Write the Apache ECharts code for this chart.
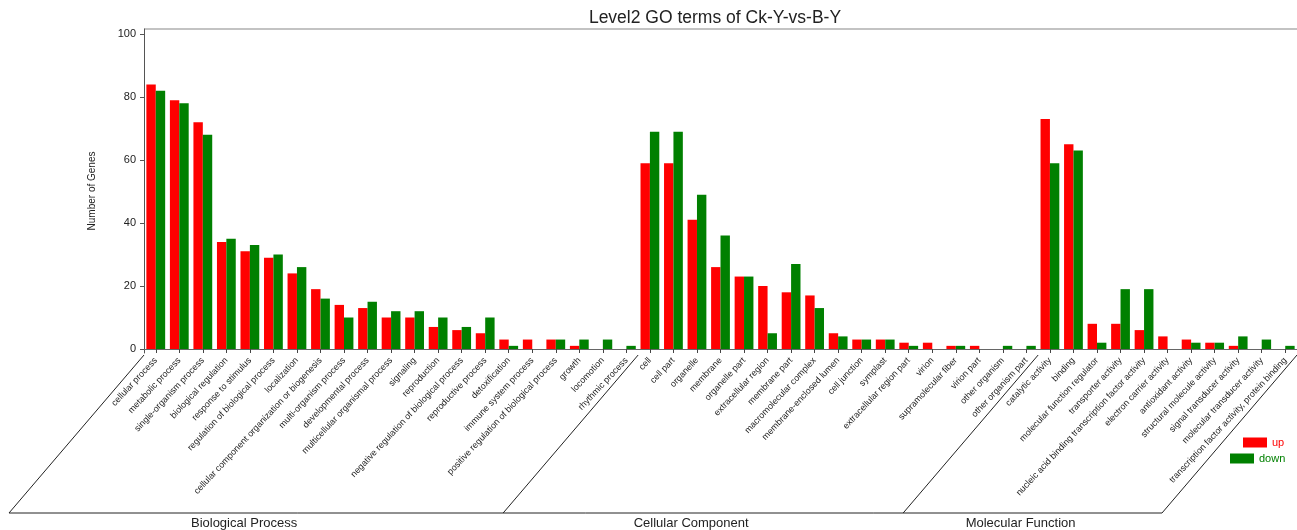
<!DOCTYPE html>
<html>
<head>
<meta charset="utf-8">
<script src="https://cdn.jsdelivr.net/npm/echarts@6/dist/echarts.min.js"></script>
<style>
  html, body { margin: 0; padding: 0; background: #ffffff; }
  #chart { width: 1297px; height: 530px; }
</style>
</head>
<body>
<div id="chart"></div>
<script>
// GO level-2 terms, in drawing order (Biological Process, Cellular Component, Molecular Function)
const categories = [
  'cellular process', 'metabolic process', 'single-organism process', 'biological regulation',
  'response to stimulus', 'regulation of biological process', 'localization',
  'cellular component organization or biogenesis', 'multi-organism process', 'developmental process',
  'multicellular organismal process', 'signaling', 'reproduction',
  'negative regulation of biological process', 'reproductive process', 'detoxification',
  'immune system process', 'positive regulation of biological process', 'growth', 'locomotion',
  'rhythmic process',
  'cell', 'cell part', 'organelle', 'membrane', 'organelle part', 'extracellular region',
  'membrane part', 'macromolecular complex', 'membrane-enclosed lumen', 'cell junction', 'symplast',
  'extracellular region part', 'virion', 'supramolecular fiber', 'virion part', 'other organism',
  'other organism part',
  'catalytic activity', 'binding', 'molecular function regulator', 'transporter activity',
  'nucleic acid binding transcription factor activity', 'electron carrier activity',
  'antioxidant activity', 'structural molecule activity', 'signal transducer activity',
  'molecular transducer activity', 'transcription factor activity, protein binding'
];

const upCounts = [
  84, 79, 72, 34, 31, 29, 24, 19, 14, 13, 10, 10, 7, 6, 5, 3, 3, 3, 1, 0, 0,
  59, 59, 41, 26, 23, 20, 18, 17, 5, 3, 3, 2, 2, 1, 1, 0, 0,
  73, 65, 8, 8, 6, 4, 3, 2, 1, 0, 0
];

const downCounts = [
  82, 78, 68, 35, 33, 30, 26, 16, 10, 15, 12, 12, 10, 7, 10, 1, 0, 3, 3, 3, 1,
  69, 69, 49, 36, 23, 5, 27, 13, 4, 3, 3, 1, 0, 1, 0, 1, 1,
  59, 63, 2, 19, 19, 0, 2, 2, 4, 3, 1
];

const groupNames = ['Biological Process', 'Cellular Component', 'Molecular Function'];
const groupSizes = [21, 17, 11];

const yTicks = [0, 20, 40, 60, 80, 100];

const FONT = '"Liberation Sans", Arial, Helvetica, sans-serif';
const RED = '#ff0000';
const GREEN = '#008000';

const chart = echarts.init(document.getElementById('chart'), null, { renderer: 'canvas' });

// plot frame
const GRID = { left: 144, top: 29, width: 1154, height: 324 };
// value range leaves a small margin below 0 and above 100 inside the frame
const Y_MIN = -1.27;
const Y_MAX = 101.59;

const option = {
  backgroundColor: '#ffffff',
  animation: false,
  textStyle: { fontFamily: FONT },
  title: {
    text: 'Level2 GO terms of Ck-Y-vs-B-Y',
    left: 715,
    top: 9,
    padding: 0,
    textAlign: 'center',
    textStyle: { fontFamily: FONT, fontSize: 17.5, fontWeight: 'normal', color: '#222' }
  },
  legend: [
    {
      data: [{ name: 'up', textStyle: { color: RED } }],
      left: 1243, top: 437, padding: 0,
      itemWidth: 24, itemHeight: 10, icon: 'rect',
      textStyle: { fontFamily: FONT, fontSize: 11, padding: [0, 0, 0, 0] }
    },
    {
      data: [{ name: 'down', textStyle: { color: GREEN } }],
      left: 1230, top: 453, padding: 0,
      itemWidth: 24, itemHeight: 10, icon: 'rect',
      textStyle: { fontFamily: FONT, fontSize: 11, padding: [0, 0, 0, 0] }
    }
  ],
  grid: { left: GRID.left, top: GRID.top, width: GRID.width, height: GRID.height, containLabel: false },
  xAxis: {
    type: 'category',
    data: categories,
    boundaryGap: true,
    axisLine: { show: true, lineStyle: { color: '#666', width: 1 } },
    axisTick: { show: true, alignWithLabel: true, length: 4, lineStyle: { color: '#444' } },
    axisLabel: {
      interval: 0,
      rotate: 47,
      margin: 6,
      fontFamily: FONT,
      fontSize: 9,
      color: '#222'
    },
    splitLine: { show: false }
  },
  yAxis: {
    type: 'value',
    min: Y_MIN,
    max: Y_MAX,
    name: 'Number of Genes',
    nameLocation: 'middle',
    nameRotate: 90,
    nameGap: 47,
    nameTextStyle: { fontFamily: FONT, fontSize: 10, color: '#222' },
    axisLine: { show: true, lineStyle: { color: '#555', width: 1 } },
    axisTick: { show: true, length: 4, customValues: yTicks, lineStyle: { color: '#555' } },
    axisLabel: { customValues: yTicks, margin: 8, fontFamily: FONT, fontSize: 11, color: '#222' },
    splitLine: { show: false }
  },
  series: [
    {
      name: 'up',
      type: 'bar',
      data: upCounts,
      barWidth: 9.4,
      barGap: '0%',
      itemStyle: { color: RED }
    },
    {
      name: 'down',
      type: 'bar',
      data: downCounts,
      barWidth: 9.4,
      barGap: '0%',
      itemStyle: { color: GREEN }
    }
  ]
};

chart.setOption(option);

// Top frame edge plus the slanted group brackets under the category labels
function drawDecorations() {
  const c0 = chart.convertToPixel({ xAxisIndex: 0 }, categories[0]);
  const c1 = chart.convertToPixel({ xAxisIndex: 0 }, categories[1]);
  const band = c1 - c0;
  const axisY = chart.convertToPixel({ yAxisIndex: 0 }, Y_MIN);
  const topY = axisY + 2;
  const baseY = 513;
  const shift = 135;
  const edge = i => c0 + (i - 0.5) * band;

  const lineStyle = { stroke: '#222', lineWidth: 1 };
  const elements = [];

  elements.push({
    type: 'line',
    shape: { x1: GRID.left, y1: GRID.top, x2: GRID.left + GRID.width, y2: GRID.top },
    style: { stroke: '#888', lineWidth: 1.2 },
    silent: true
  });

  const bounds = [0];
  groupSizes.forEach(n => bounds.push(bounds[bounds.length - 1] + n));

  bounds.forEach(b => {
    const x = edge(b);
    elements.push({
      type: 'line',
      shape: { x1: x, y1: topY, x2: x - shift, y2: baseY },
      style: lineStyle,
      silent: true
    });
  });

  elements.push({
    type: 'line',
    shape: { x1: edge(0) - shift, y1: baseY, x2: edge(bounds[bounds.length - 1]) - shift, y2: baseY },
    style: lineStyle,
    silent: true
  });

  groupNames.forEach((name, g) => {
    const left = edge(bounds[g]) - shift;
    const right = edge(bounds[g + 1]) - shift;
    elements.push({
      type: 'text',
      x: (left + right) / 2 - 12,
      y: 523,
      style: {
        text: name,
        fontFamily: FONT,
        fontSize: 13,
        fill: '#222',
        align: 'center',
        verticalAlign: 'middle'
      },
      silent: true
    });
  });

  chart.setOption({ graphic: { elements: elements } });
}

drawDecorations();
</script>
</body>
</html>
